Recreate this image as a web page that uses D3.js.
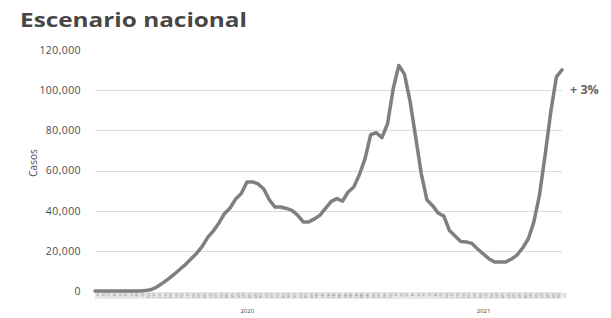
<!DOCTYPE html>
<html>
<head>
<meta charset="utf-8">
<script src="https://cdn.jsdelivr.net/npm/d3@7"></script>
<style>
body { margin: 0; background: #fff; }
svg { display: block; }
.grid line { stroke: #dcdcdc; stroke-width: 1; }
</style>
</head>
<body>
<div id="chart"></div>
<script>
var width = 611,
height = 318,
margin = {top: 50, bottom: 27, left: 95, right: 49}

// casos semanales, semana 1 de 2020 a semana 31 de 2021
var casos2020 = [0, 0, 0, 0, 0, 0, 0, 0, 50, 200, 700, 2000, 3900, 5900, 8200, 10600, 13000, 15800, 18600, 22000,
	26600, 29800, 33700, 38500, 41300, 45800, 48500, 54300, 54300, 53300, 50800, 45300, 41800, 41800, 41100, 40100,
	37800, 34400, 34400, 35900, 37800, 41300, 44600, 46000, 44800, 49300, 51800, 58000, 65900, 77900, 78800, 76400, 83300]
var casos2021 = [100700, 112300, 108000, 94400, 76500, 58200, 45300, 42500, 38800, 37300, 30100, 27400, 24600, 24400,
	23700, 20900, 18500, 16100, 14400, 14400, 14400, 15900, 17900, 21400, 25900, 34400, 47800, 67700, 89100, 106600, 110100]
var years = ["2020", "2021"]
var yTicks = [0, 20000, 40000, 60000, 80000, 100000, 120000]
var gridTicks = [20000, 40000, 60000, 80000, 100000]
var cambio = "+ 3%"

var data = []
casos2020.forEach(function(d, i) { data.push({year: "2020", week: i + 1, value: d}) })
casos2021.forEach(function(d, i) { data.push({year: "2021", week: i + 1, value: d}) })
data.forEach(function(d, i) { d.idx = i })

var svg = d3.select("#chart").append("svg")
	.attr("width", width)
	.attr("height", height)

var xScale = d3.scaleLinear()
	.domain([0, data.length - 1])
	.range([margin.left, width - margin.right])

var yScale = d3.scaleLinear()
	.domain([0, 120000])
	.range([height - margin.bottom, margin.top])

// titulo
svg.append("text")
	.text("Escenario nacional")
	.attr("x", 20)
	.attr("y", 27)
	.attr("font-family", "Open Sans")
	.attr("font-weight", 700)
	.attr("font-size", "20px")
	.attr("textLength", 227)
	.attr("lengthAdjust", "spacingAndGlyphs")
	.attr("fill", "#474747")

// lineas horizontales
svg.append("g")
	.attr("class", "grid")
	.selectAll("line")
	.data(gridTicks)
	.enter()
	.append("line")
	.attr("x1", margin.left)
	.attr("x2", width - margin.right)
	.attr("y1", function(d) { return Math.round(yScale(d)) + 0.5 })
	.attr("y2", function(d) { return Math.round(yScale(d)) + 0.5 })

// eje y
var yAxis = d3.axisLeft(yScale)
	.tickValues(yTicks)
	.tickSize(0)
	.tickPadding(0)
	.tickFormat(d3.format(","))

svg.append("g")
	.attr("class", "y-axis")
	.attr("transform", "translate(81,0)")
	.call(yAxis)
	.call(function(g) { g.select(".domain").remove() })
	.selectAll("text")
	.attr("font-family", "Open Sans")
	.attr("font-size", "10.5px")
	.attr("letter-spacing", "0.4px")
	.attr("fill", "#4d4d4d")

svg.append("text")
	.text("Casos")
	.attr("transform", "translate(37,163) rotate(-90)")
	.attr("text-anchor", "middle")
	.attr("font-family", "Open Sans")
	.attr("font-size", "10px")
	.attr("fill", "#4d4d4d")

// banda de etiquetas del eje x
var band = svg.append("g").attr("class", "x-band")
band.append("rect")
	.attr("x", xScale(0))
	.attr("y", yScale(0) + 1)
	.attr("width", xScale(data.length - 1) - xScale(0))
	.attr("height", 7)
	.attr("fill", "#e8e8e8")

band.selectAll("text")
	.data(data)
	.enter()
	.append("text")
	.text(function(d) { return "S" + d.week })
	.attr("transform", function(d) { return "translate(" + (xScale(d.idx) + 1) + "," + (yScale(0) + 2) + ") rotate(90)" })
	.attr("font-family", "Open Sans")
	.attr("font-size", "3px")
	.attr("fill", "#777")

// años
svg.selectAll(".year")
	.data(years)
	.enter()
	.append("text")
	.attr("class", "year")
	.text(function(d) { return d })
	.attr("x", function(d) {
		var sub = data.filter(function(e) { return e.year == d })
		return (xScale(sub[0].idx) + xScale(sub[sub.length - 1].idx)) / 2 + 6
	})
	.attr("y", 313)
	.attr("text-anchor", "middle")
	.attr("font-family", "Open Sans")
	.attr("font-size", "6px")
	.attr("fill", "#444")

// linea de casos
var line = d3.line()
	.x(function(d) { return xScale(d.idx) })
	.y(function(d) { return yScale(d.value) })

svg.append("path")
	.datum(data)
	.attr("d", line)
	.attr("fill", "none")
	.attr("stroke", "#7f7f7f")
	.attr("stroke-width", 3.5)
	.attr("stroke-linejoin", "round")
	.attr("stroke-linecap", "round")

svg.append("text")
	.text(cambio)
	.attr("x", 570)
	.attr("y", 94)
	.attr("font-family", "Open Sans")
	.attr("font-weight", 700)
	.attr("font-size", "12.5px")
	.attr("fill", "#666")
</script>
</body>
</html>
